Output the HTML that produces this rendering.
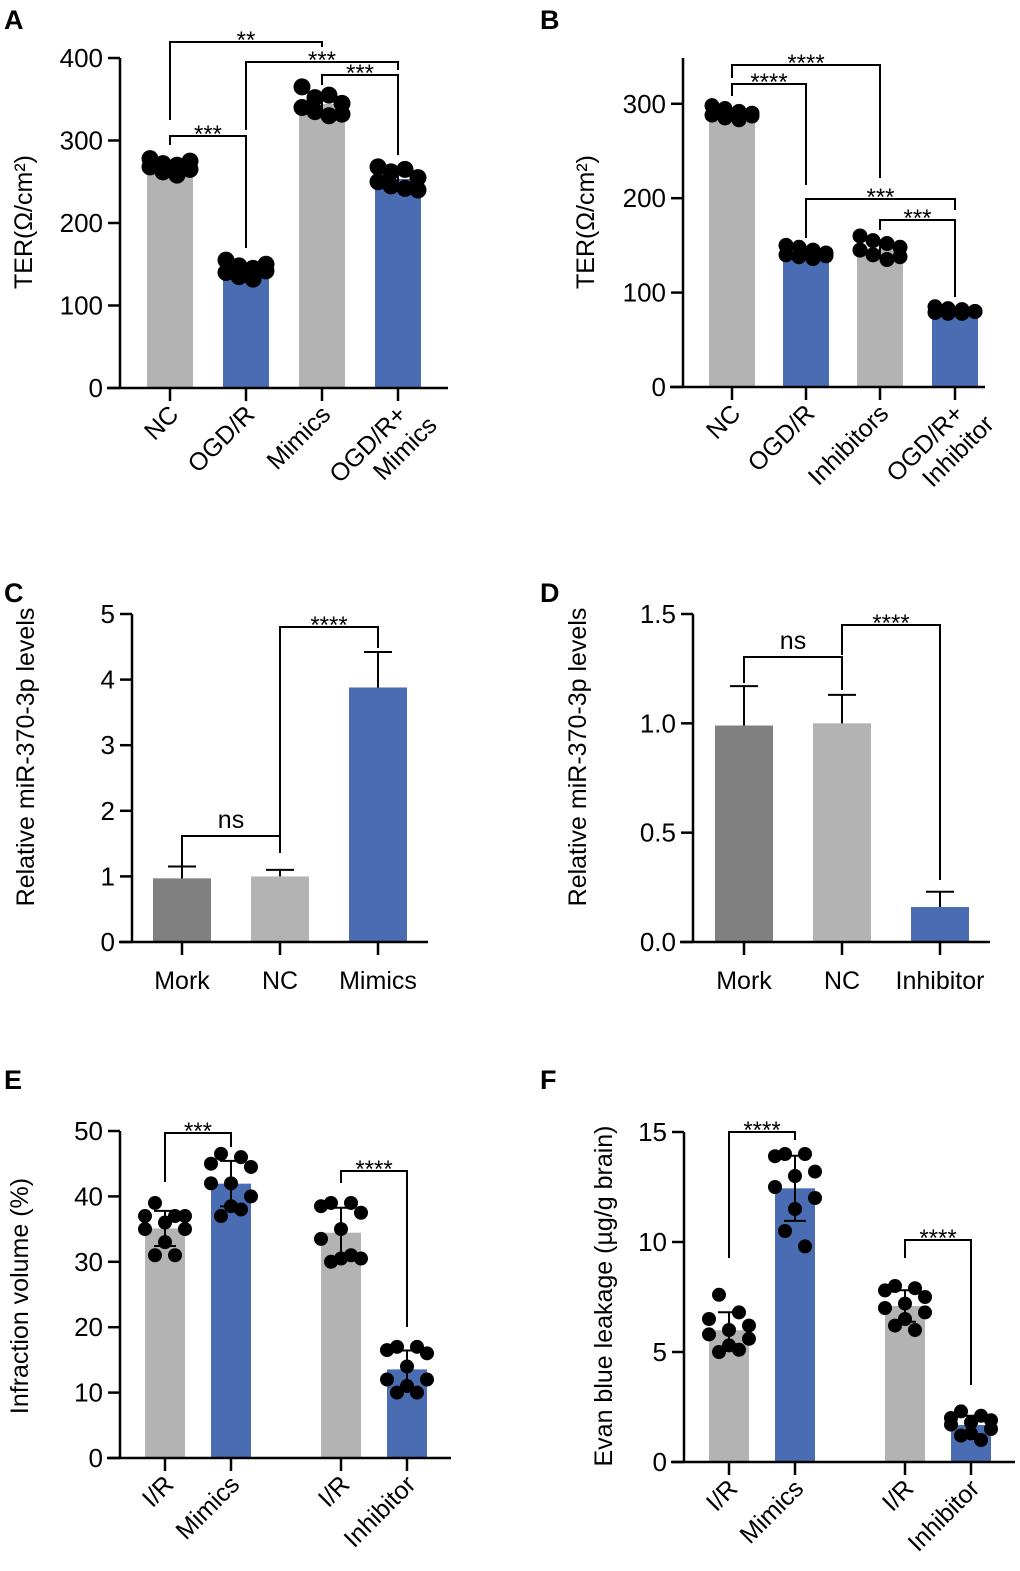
<!DOCTYPE html>
<html><head><meta charset="utf-8">
<style>
body{margin:0;background:#fff;}
svg{display:block;font-family:"Liberation Sans",Arial,sans-serif;}
</style></head>
<body>
<svg id="fig" width="1020" height="1571" viewBox="0 0 1020 1571" xmlns="http://www.w3.org/2000/svg"></svg>
<script>
// ---------- DATA ----------
const A_categories = [["NC"],["OGD/R"],["Mimics"],["OGD/R+","Mimics"]];
const A_nc = [278,272,270,275,268,262,258,265];
const A_ogd = [155,148,145,150,140,135,132,142];
const A_mimics = [365,352,355,345,340,335,330,332];
const A_ogdMimics = [268,262,265,255,250,245,242,240];
const A_ticks = [0,100,200,300,400];

const B_categories = [["NC"],["OGD/R"],["Inhibitors"],["OGD/R+","Inhibitor"]];
const B_nc = [298,295,292,290,288,285,283,287];
const B_ogd = [150,148,145,142,140,138,136,139];
const B_inhibitors = [160,155,152,148,145,140,135,138];
const B_ogdInhibitor = [85,83,82,80,79,78,78,80];
const B_ticks = [0,100,200,300];

const C_categories = ["Mork","NC","Mimics"];
const C_values = [0.97,1.0,3.88];
const C_errTop = [1.15,1.1,4.42];
const C_ticks = ["0","1","2","3","4","5"];

const D_categories = ["Mork","NC","Inhibitor"];
const D_values = [0.99,1.0,0.16];
const D_errTop = [1.17,1.13,0.23];
const D_ticks = ["0.0","0.5","1.0","1.5"];

const E_categories = ["I/R","Mimics","I/R","Inhibitor"];
const E_ir1 = [39,37,37,37,36,35,35,33,31,31];
const E_mimics = [46.5,46,45,44.5,42,42,40,38.5,37,38];
const E_ir2 = [39,39,38.5,37.5,35,33.5,30.5,30.5,30,31];
const E_inhibitor = [17,17,16.5,16,14,12,12,11,10,10];
const E_ticks = [0,10,20,30,40,50];

const F_categories = ["I/R","Mimics","I/R","Inhibitor"];
const F_ir1 = [7.6,6.8,6.5,6.2,6.0,5.8,5.6,5.3,5.0,5.1];
const F_mimics = [14,14,13.9,13.2,13,12.5,12,11.5,10.5,9.8];
const F_ir2 = [8,7.9,7.8,7.5,7.2,7,6.8,6.5,6.2,6];
const F_inhibitor = [2.3,2.1,2,1.9,1.8,1.7,1.5,1.3,1.2,1.0];
const F_ticks = [0,5,10,15];

// ---------- RENDER ----------
const NS="http://www.w3.org/2000/svg";
const svg=document.getElementById('fig');
const GRAY="#b3b3b3", DGRAY="#808080", BLUE="#4a6cb3";
function mk(tag,attrs,parent,text){const e=document.createElementNS(NS,tag);for(const k in attrs)e.setAttribute(k,attrs[k]);if(text!==undefined)e.textContent=text;(parent||svg).appendChild(e);return e;}
function mean(a){return a.reduce((s,v)=>s+v,0)/a.length;}
function sd(a){const m=mean(a);return Math.sqrt(a.reduce((s,v)=>s+(v-m)*(v-m),0)/(a.length-1));}

function panel(cfg){
  const g=mk('g',{});
  
  
  const y=v=>cfg.y0-(v-cfg.vmin)/(cfg.vmax-cfg.vmin)*(cfg.y0-cfg.yTop);
  const L=mk('text',{x:cfg.letter[0],y:cfg.letter[1],'font-size':27,'font-weight':'bold'},g,cfg.letter[2]);
  
  
  cfg.bars.forEach((b,i)=>{
    const cx=cfg.cx[i];
    const vals=b.dots;
    const m=vals?mean(vals):b.value;
    const r=mk('rect',{x:cx-cfg.bw/2,y:y(m),width:cfg.bw,height:cfg.y0-y(m),fill:b.color},g);
    
    
    if(vals){
      const s=sd(vals);
      const eb=mk('path',{d:`M${cx},${y(m-s)}V${y(m+s)}M${cx-11},${y(m+s)}H${cx+11}M${cx-11},${y(m-s)}H${cx+11}`,stroke:'#000','stroke-width':2,fill:'none'},g);
      
      
      const offs=cfg.jitter;
      vals.forEach((v,k)=>{
        const c=mk('circle',{cx:cx+offs[k%offs.length],cy:y(v),r:cfg.dotR,fill:'#000'},g);
        
        
      });
    } else {
      const et=b.err;
      const eb=mk('path',{d:`M${cx},${y(m)}V${y(et)}M${cx-14},${y(et)}H${cx+14}`,stroke:'#000','stroke-width':2,fill:'none'},g);
      
      
    }
  });
  const ax=mk('path',{d:`M${cfg.ax},${cfg.yTop}V${cfg.y0}M${cfg.ax-13},${cfg.y0}H${cfg.axEnd}`,stroke:'#000','stroke-width':2.5,fill:'none'},g);
  
  
  cfg.ticks.forEach(t=>{
    const v=parseFloat(t);
    mk('line',{x1:cfg.ax-12,x2:cfg.ax,y1:y(v),y2:y(v),stroke:'#000','stroke-width':2.5},g);
    const tl=mk('text',{x:cfg.ax-17,y:y(v)+9,'font-size':26,'text-anchor':'end'},g,t);
    
    
  });
  cfg.cx.forEach(cx=>mk('line',{x1:cx,x2:cx,y1:cfg.y0,y2:cfg.y0+13,stroke:'#000','stroke-width':2.5},g));
  cfg.cats.forEach((c,i)=>{
    const cx=cfg.cx[i];
    let t;
    if(cfg.rot){
      const lines=Array.isArray(c)?c:[c];
      t=mk('text',{transform:`translate(${cx+10},${cfg.y0+28}) rotate(-45)`,'font-size':25,'text-anchor':'end'},g);
      lines.forEach((ln,k)=>{mk('tspan',{x:k?14:0,dy:k?29:0},t,ln);});
    } else {
      t=mk('text',{x:cx,y:cfg.y0+47,'font-size':25,'text-anchor':'middle'},g,c);
    }
    
    
  });
  const yt=mk('text',{transform:`translate(${cfg.yt[0]},${cfg.yt[1]}) rotate(-90)`,'font-size':25,'text-anchor':'middle'},g,cfg.ytitle);
  
  
  cfg.brackets.forEach(br=>{
    const x1=cfg.cx[br[0]],x2=cfg.cx[br[1]];
    const p=mk('path',{d:`M${x1},${br[3]}V${br[2]}H${x2}V${br[4]}`,stroke:'#000','stroke-width':2,fill:'none'},g);
    
    
    const ns=br[5]==='ns';
    const tx=mk('text',{x:(x1+x2)/2,y:br[2]+(ns?-8:6),'font-size':ns?25:24,'text-anchor':'middle'},g,br[5]);
    
    
  });
}

const jit8=[-20,-7,7,20,-20,-7,7,20];
const jit10=[-10,10,-20,20,0,-20,20,0,-10,10];

panel({name:'panel-a',letter:[4,29,'A'],ax:120,axEnd:448,y0:388,yTop:58,vmin:0,vmax:400,
  ticks:A_ticks.map(String),cx:[170,246,322,398],bw:46,dotR:8.5,jitter:jit8,rot:true,
  cats:A_categories,yt:[32,222],ytitle:'TER(Ω/cm²)',
  bars:[{dots:A_nc,color:GRAY},{dots:A_ogd,color:BLUE},{dots:A_mimics,color:GRAY},{dots:A_ogdMimics,color:BLUE}],
  brackets:[[0,2,42,120,47,'**'],[1,3,62,130,70,'***'],[2,3,75,85,155,'***'],[0,1,136,145,248,'***']]});

panel({name:'panel-b',letter:[540,29,'B'],ax:683,axEnd:985,y0:387,yTop:58,vmin:0,vmax:348.5,
  ticks:B_ticks.map(String),cx:[732,806,880,955],bw:46,dotR:7.5,jitter:jit8,rot:true,
  cats:B_categories,yt:[594,222],ytitle:'TER(Ω/cm²)',
  bars:[{dots:B_nc,color:GRAY},{dots:B_ogd,color:BLUE},{dots:B_inhibitors,color:GRAY},{dots:B_ogdInhibitor,color:BLUE}],
  brackets:[[0,1,84,96,185,'****'],[0,2,65,78,178,'****'],[1,3,199,238,210,'***'],[2,3,220,230,297,'***']]});

panel({name:'panel-c',letter:[4,602,'C'],ax:132,axEnd:428,y0:942,yTop:614,vmin:0,vmax:5,
  ticks:C_ticks,cx:[182,280,378],bw:58,rot:false,cats:C_categories,yt:[34,757],ytitle:'Relative miR-370-3p levels',
  bars:C_values.map((v,i)=>({value:v,err:C_errTop[i],color:[DGRAY,GRAY,BLUE][i]})),
  brackets:[[0,1,836,866,850,'ns'],[1,2,627,853,648,'****']]});

panel({name:'panel-d',letter:[540,602,'D'],ax:693,axEnd:990,y0:942,yTop:614,vmin:0,vmax:1.5,
  ticks:D_ticks,cx:[744,842,940],bw:58,rot:false,cats:D_categories,yt:[586,757],ytitle:'Relative miR-370-3p levels',
  bars:D_values.map((v,i)=>({value:v,err:D_errTop[i],color:[DGRAY,GRAY,BLUE][i]})),
  brackets:[[0,1,657,683,690,'ns'],[1,2,625,655,880,'****']]});

panel({name:'panel-e',letter:[4,1089,'E'],ax:120,axEnd:451,y0:1458,yTop:1131,vmin:0,vmax:50,
  ticks:E_ticks.map(String),cx:[165,231,341,407],bw:40,dotR:7,jitter:jit10,rot:true,
  cats:E_categories,yt:[28,1296],ytitle:'Infraction volume (%)',
  bars:[{dots:E_ir1,color:GRAY},{dots:E_mimics,color:BLUE},{dots:E_ir2,color:GRAY},{dots:E_inhibitor,color:BLUE}],
  brackets:[[0,1,1133,1182,1147,'***'],[2,3,1171,1183,1327,'****']]});

panel({name:'panel-f',letter:[540,1089,'F'],ax:684,axEnd:1015,y0:1462,yTop:1132,vmin:0,vmax:15,
  ticks:F_ticks.map(String),cx:[729,795,905,971],bw:40,dotR:7,jitter:jit10,rot:true,
  cats:F_categories,yt:[612,1296],ytitle:'Evan blue leakage (µg/g brain)',
  bars:[{dots:F_ir1,color:GRAY},{dots:F_mimics,color:BLUE},{dots:F_ir2,color:GRAY},{dots:F_inhibitor,color:BLUE}],
  brackets:[[0,1,1132,1258,1140,'****'],[2,3,1240,1258,1385,'****']]});
</script>
</body></html>
